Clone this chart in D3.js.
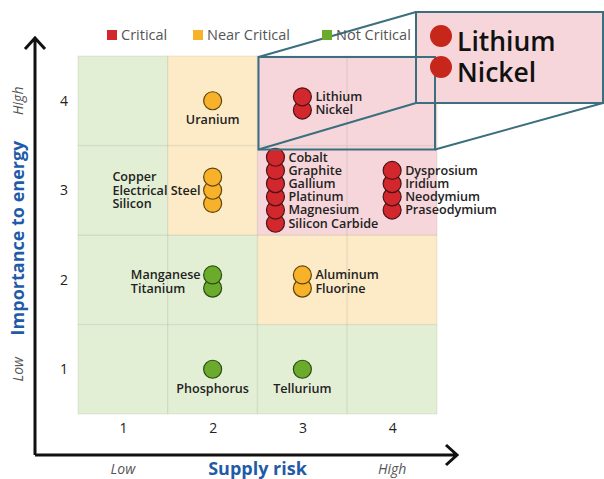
<!DOCTYPE html>
<html>
<head>
<meta charset="utf-8">
<script src="https://cdn.jsdelivr.net/npm/d3@7"></script>
<style>
  body { margin: 0; background: #fff; }
  svg { font-family: "Open Sans", Lato, sans-serif; }
</style>
</head>
<body>
<div id="chart"></div>
<script>
// chart data
var statusNames = ["Critical", "Near Critical", "Not Critical"];
var statusFill = ["#d3272e", "#f7b229", "#6aab2b"];
var statusStroke = ["#4a1414", "#5e4410", "#2d4b12"];

var levels = [1, 2, 3, 4];

// cell status, rows = importance 1..4, cols = supply risk 1..4 (index into statusNames)
var cellStatus = [
    [2, 2, 2, 2],
    [2, 2, 1, 1],
    [2, 1, 0, 0],
    [2, 1, 0, 0]
];

var minerals = ["Uranium", "Copper", "Electrical Steel", "Silicon", "Lithium", "Nickel",
    "Cobalt", "Graphite", "Gallium", "Platinum", "Magnesium", "Silicon Carbide",
    "Dysprosium", "Iridium", "Neodymium", "Praseodymium",
    "Manganese", "Titanium", "Aluminum", "Fluorine", "Phosphorus", "Tellurium"];
var supplyRisk = [2, 2, 2, 2, 3, 3,
    2.7, 2.7, 2.7, 2.7, 2.7, 2.7,
    4, 4, 4, 4,
    2, 2, 3, 3, 2, 3];
var importance = [4, 3, 3, 3, 3.97, 3.97,
    3, 3, 3, 3, 3, 3,
    3, 3, 3, 3,
    1.98, 1.98, 1.98, 1.98, 1, 1];
var mineralStatus = [1, 1, 1, 1, 0, 0,
    0, 0, 0, 0, 0, 0,
    0, 0, 0, 0,
    2, 2, 1, 1, 2, 2];
var labelSide = ["below", "left", "left", "left", "right", "right",
    "right", "right", "right", "right", "right", "right",
    "right", "right", "right", "right",
    "left", "left", "right", "right", "below", "below"];

var calloutNames = ["Lithium", "Nickel"];

var width = 604, height = 479;
var r = 9, step = 13.2;

var svg = d3.select("#chart").append("svg")
    .attr("width", width)
    .attr("height", height);

var x = d3.scaleLinear().domain([0.5, 4.5]).range([78, 437]);
var y = d3.scaleLinear().domain([0.5, 4.5]).range([414, 56]);
var cw = x(1.5) - x(0.5), ch = y(0.5) - y(1.5);

// background cells
var cells = [];
cellStatus.forEach(function (row, i) {
    row.forEach(function (s, j) {
        cells.push({col: levels[j], row: levels[i], s: s});
    });
});
var cellColors = ["#f6d6da", "#fcebc6", "#e2efd5"];
svg.append("g").selectAll("rect")
    .data(cells)
    .enter().append("rect")
    .attr("x", function (d) { return x(d.col - 0.5); })
    .attr("y", function (d) { return y(d.row + 0.5); })
    .attr("width", cw)
    .attr("height", ch)
    .attr("fill", function (d) { return cellColors[d.s]; })
    .attr("stroke", "rgba(120,120,100,0.13)")
    .attr("stroke-width", 1.2);

// axes tick labels
var xAxis = svg.append("g")
    .attr("transform", "translate(0," + y(0.5) + ")")
    .call(d3.axisBottom(x).tickValues(levels).tickSize(0).tickPadding(9).tickFormat(d3.format("d")));
var yAxis = svg.append("g")
    .attr("transform", "translate(" + x(0.5) + ",0)")
    .call(d3.axisLeft(y).tickValues(levels).tickSize(0).tickPadding(10).tickFormat(d3.format("d")));
[xAxis, yAxis].forEach(function (a) {
    a.select(".domain").remove();
    a.selectAll("text").attr("font-size", 14).attr("fill", "#222")
        .style("font-family", "'Open Sans', Lato, sans-serif");
});

// highlight box around lithium/nickel + callout
var hx0 = x(2.5) + 1, hx1 = x(4.5) - 2, hy0 = y(4.5) + 1, hy1 = y(3.5) + 4;
var bx0 = 416, bx1 = 603, by0 = 12, by1 = 103;
var teal = "#3b6f7e";
svg.append("rect")
    .attr("x", bx0).attr("y", by0)
    .attr("width", bx1 - bx0).attr("height", by1 - by0)
    .attr("fill", "#f6d6da")
    .attr("stroke", teal).attr("stroke-width", 2);

// points
var pts = minerals.map(function (m, i) {
    return {name: m, sr: supplyRisk[i], imp: importance[i], s: mineralStatus[i], side: labelSide[i]};
});
var groups = d3.groups(pts, function (d) { return d.sr + "_" + d.imp; });
groups.forEach(function (g) {
    var n = g[1].length;
    g[1].forEach(function (d, k) {
        d.cx = x(d.sr);
        d.cy = y(d.imp) + (k - (n - 1) / 2) * step;
    });
});

var ptG = svg.append("g");
// draw bottom first so the top circle sits on top like the reference
ptG.selectAll("circle")
    .data(pts.slice().reverse())
    .enter().append("circle")
    .attr("cx", function (d) { return d.cx; })
    .attr("cy", function (d) { return d.cy; })
    .attr("r", r)
    .attr("fill", function (d) { return statusFill[d.s]; })
    .attr("stroke", function (d) { return statusStroke[d.s]; })
    .attr("stroke-width", 1.2);

var labels = ptG.selectAll("text.lbl")
    .data(pts)
    .enter().append("text")
    .attr("class", "lbl")
    .attr("font-size", 12.6)
    .attr("font-weight", 600)
    .attr("fill", "#222")
    .attr("dy", "0.35em")
    .text(function (d) { return d.name; });

labels.filter(function (d) { return d.side === "right"; })
    .attr("x", function (d) { return d.cx + r + 4; })
    .attr("y", function (d) { return d.cy; });
labels.filter(function (d) { return d.side === "below"; })
    .attr("text-anchor", "middle")
    .attr("x", function (d) { return d.cx; })
    .attr("y", function (d) { return d.cy + 19; });
// left labels: left aligned block ending just before the circles
groups.forEach(function (g) {
    var left = labels.filter(function (d) { return d.side === "left" && g[1].indexOf(d) >= 0; });
    if (left.empty()) return;
    var w = d3.max(left.nodes(), function (n) { return n.getComputedTextLength(); });
    left.attr("x", function (d) { return d.cx - r - 3 - w; })
        .attr("y", function (d) { return d.cy; });
});

// highlight rect and connector lines
svg.append("rect")
    .attr("x", hx0).attr("y", hy0)
    .attr("width", hx1 - hx0).attr("height", hy1 - hy0)
    .attr("fill", "none")
    .attr("stroke", teal).attr("stroke-width", 2);
var connectors = [[hx0, hy0, bx0, by0], [hx0, hy1, bx0, by1], [hx1, hy1, bx1, by1]];
svg.append("g").selectAll("line")
    .data(connectors)
    .enter().append("line")
    .attr("x1", function (d) { return d[0]; })
    .attr("y1", function (d) { return d[1]; })
    .attr("x2", function (d) { return d[2]; })
    .attr("y2", function (d) { return d[3]; })
    .attr("stroke", teal).attr("stroke-width", 2);

// callout contents
var co = svg.append("g");
calloutNames.forEach(function (name, i) {
    co.append("circle")
        .attr("cx", 441).attr("cy", 36 + i * 31)
        .attr("r", 11)
        .attr("fill", "#c7261b");
    co.append("text")
        .attr("x", 457).attr("y", 51 + i * 31)
        .attr("font-size", 26.5)
        .attr("font-weight", 600)
        .attr("fill", "#111")
        .text(name);
});

// legend
var legend = svg.append("g").attr("transform", "translate(107,35)");
var legX = [0, 86, 215];
statusNames.forEach(function (name, i) {
    var g = legend.append("g").attr("transform", "translate(" + legX[i] + ",0)");
    g.append("rect").attr("x", 0).attr("y", -5).attr("width", 10).attr("height", 10)
        .attr("fill", statusFill[i]);
    g.append("text").attr("x", 14).attr("y", 0).attr("dy", "0.35em")
        .attr("font-size", 14.5).attr("fill", "#555").text(name);
});

// axis arrows
var ax = 35, ay = 455;
svg.append("path")
    .attr("d", "M" + ax + "," + ay + "V38M" + (ax - 10) + ",49L" + ax + ",38L" + (ax + 10) + ",49")
    .attr("fill", "none").attr("stroke", "#111").attr("stroke-width", 3);
svg.append("path")
    .attr("d", "M" + ax + "," + ay + "H457M446," + (ay - 10) + "L457," + ay + "L446," + (ay + 10))
    .attr("fill", "none").attr("stroke", "#111").attr("stroke-width", 3);

// axis titles
var blue = "#1f5ba8";
svg.append("text")
    .attr("x", (x(0.5) + x(4.5)) / 2).attr("y", 475)
    .attr("text-anchor", "middle")
    .attr("font-size", 18).attr("font-weight", 700).attr("fill", blue)
    .text("Supply risk");
svg.append("text")
    .attr("transform", "translate(24,238) rotate(-90)")
    .attr("text-anchor", "middle")
    .attr("font-size", 18).attr("font-weight", 700).attr("fill", blue)
    .text("Importance to energy");

var endLabels = [["Low", 1], ["High", 4]];
endLabels.forEach(function (e) {
    svg.append("text")
        .attr("x", x(e[1])).attr("y", 474)
        .attr("text-anchor", "middle")
        .attr("font-size", 14).attr("font-style", "italic").attr("fill", "#555")
        .text(e[0]);
    svg.append("text")
        .attr("transform", "translate(23," + y(e[1]) + ") rotate(-90)")
        .attr("text-anchor", "middle")
        .attr("font-size", 14).attr("font-style", "italic").attr("fill", "#555")
        .text(e[0]);
});
</script>
</body>
</html>
